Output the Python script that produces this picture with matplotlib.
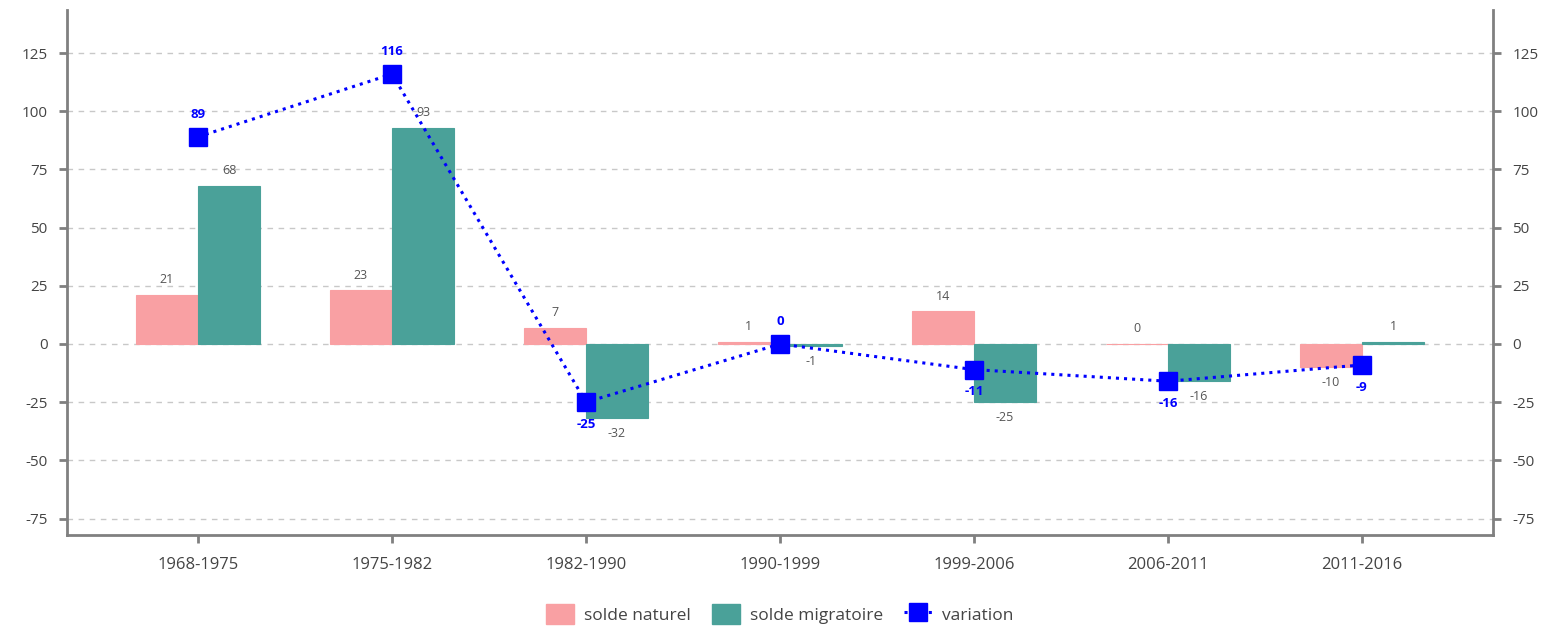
import numpy as np
from matplotlib import pyplot as plt
from matplotlib.lines import Line2D
from matplotlib.patches import Patch

plt.rcParams['font.family'] = ['Open Sans', 'DejaVu Sans']
plt.rcParams['axes.unicode_minus'] = False

periodes = ["1968-1975", "1975-1982", "1982-1990", "1990-1999", "1999-2006", "2006-2011", "2011-2016"]
solde_naturel = [21, 23, 7, 1, 14, 0, -10]
solde_migratoire = [68, 93, -32, -1, -25, -16, 1]
variation = [89, 116, -25, 0, -11, -16, -9]

c_nat = "#f9a0a3"
c_mig = "#4aa199"
c_var = "#0000ff"
c_axis = "#808080"
c_text = "#555555"

x = np.arange(len(periodes))
w = 0.32

fig = plt.figure(figsize=(15.6, 6.27), dpi=100)
ax = fig.add_axes([0.043, 0.147, 0.914, 0.837])

ax.bar(x - w / 2, solde_naturel, w, color=c_nat, edgecolor=c_nat, linewidth=0.8, zorder=2)
ax.bar(x + w / 2, solde_migratoire, w, color=c_mig, edgecolor=c_mig, linewidth=0.8, zorder=2)
ax.plot(x, variation, color=c_var, linestyle=':', linewidth=2.2, marker='s',
        markersize=13, zorder=4)

# value labels on the bars
for xi, v in zip(x - w / 2, solde_naturel):
    ax.annotate(str(v), (xi, v), xytext=(0, 11 if v >= 0 else -11), textcoords='offset points',
                ha='center', va='center', fontsize=9, color=c_text, zorder=5)
for xi, v in zip(x + w / 2, solde_migratoire):
    ax.annotate(str(v), (xi, v), xytext=(0, 11 if v >= 0 else -11), textcoords='offset points',
                ha='center', va='center', fontsize=9, color=c_text, zorder=5)
for xi, v in zip(x, variation):
    ax.annotate(str(v), (xi, v), xytext=(0, 16 if v >= 0 else -16), textcoords='offset points',
                ha='center', va='center', fontsize=9.5, color=c_var, fontweight='bold', zorder=5)

ax.set_xlim(-0.675, 6.675)
ax.set_ylim(-82, 143.5)
yt = np.arange(-75, 126, 25)
ax.set_yticks(yt)
ax.set_xticks(x)
ax.set_xticklabels(periodes)
ax.grid(axis='y', color='#c8c8c8', linestyle=(0, (4, 4)), linewidth=1, zorder=0)

ax.spines['top'].set_visible(False)
for s in ['left', 'right', 'bottom']:
    ax.spines[s].set_color(c_axis)
    ax.spines[s].set_linewidth(2)
ax.tick_params(axis='both', colors=c_axis, width=2, length=6, labelcolor='#444444', labelsize=11)
ax.tick_params(axis='x', pad=10, labelsize=12)
ax.tick_params(axis='y', labelleft=True, labelright=True, right=True, pad=8)

handles = [Patch(color=c_nat, label="solde naturel"),
           Patch(color=c_mig, label="solde migratoire"),
           Line2D([], [], color=c_var, linestyle=':', linewidth=2.2, marker='s', markersize=13,
                  label="variation")]
leg = fig.legend(handles=handles, loc='center', bbox_to_anchor=(0.5, 0.02), ncol=3, frameon=False,
                 fontsize=12.5, handlelength=1.6, handleheight=1.4, columnspacing=1.2, handletextpad=0.6)
for t in leg.get_texts():
    t.set_color('#444444')

fig.savefig("out.png", dpi=100)
